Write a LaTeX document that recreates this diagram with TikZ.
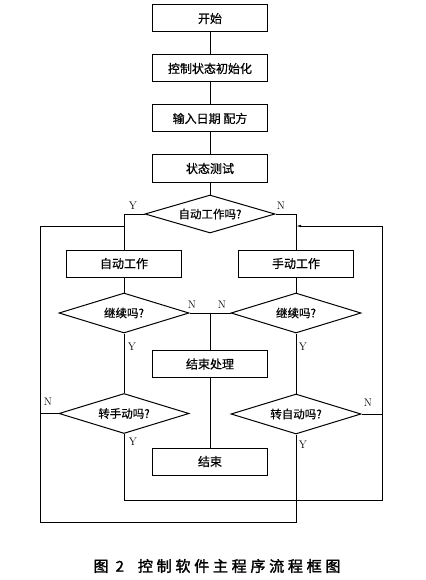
\documentclass[tikz,border=0pt]{standalone}
\usepackage{fontspec}
\usepackage{tikz}
\usetikzlibrary{arrows.meta, positioning, shapes.geometric}
\newfontfamily\cjk{Noto Sans CJK SC}[FakeBold=0.6]
\newfontfamily\cjkcap{Noto Sans CJK SC}[FakeBold=2, LetterSpace=25]

\begin{document}
\begin{tikzpicture}[x=1pt, y=-1pt,
        box/.style={rectangle, draw=black, line width=1pt, minimum width=115pt, minimum height=27pt, align=center, font=\cjk\fontsize{12}{14}\selectfont},
        decision/.style={diamond, draw=black, line width=1pt, aspect=3.25, inner sep=0pt, minimum width=130pt, minimum height=40pt, align=center, font=\cjk\fontsize{11.5}{13}\selectfont},
        yn/.style={inner sep=0pt, font=\fontsize{11}{13}\selectfont},
        line/.style={draw=black, line width=0.8pt}
    ]
        \useasboundingbox (0,0) rectangle (425,580);
        \node[box] (start) at (210,18.5) {开始};
        \node[box, below=22pt of start] (init) {控制状态初始化};
        \node[box, below=22pt of init] (input) {输入日期\ 配方};
        \node[box, below=22pt of input] (test) {状态测试};
        \node[decision, minimum height=38pt] (isauto) at (210,214) {自动工作吗?};
        \node[box] (auto) at (124,263.5) {自动工作};
        \node[box] (manual) at (296,263.5) {手动工作};
        \node[decision] (goonL) at (124,313) {继续吗?};
        \node[decision] (goonR) at (296,313) {继续吗?};
        \node[box] (endproc) at (210,364) {结束处理};
        \node[decision] (tomanual) at (124,413.5) {转手动吗?};
        \node[decision] (toauto) at (296,414) {转自动吗?};
        \node[box] (finish) at (210,461.5) {结束};
        \coordinate (lt) at (40,226);
        \coordinate (lb) at (40,522);
        \coordinate (rt) at (382,226);
        \coordinate (rb) at (382,500);
        \coordinate (join) at (endproc.north |- goonL.east);
        % main chain
        \draw[line] (start) -- (init);
        \draw[line] (init) -- (input);
        \draw[line] (input) -- (test);
        \draw[line] (test) -- (isauto);
        \draw[line] (isauto.west) -| (auto.north);
        \draw[line] (isauto.east) -| (manual.north);
        \draw[line] (auto) -- (goonL);
        \draw[line] (manual) -- (goonR);
        \draw[line] (goonL.east) -- (goonR.west);
        \draw[line] (join) -- (endproc);
        \draw[line] (endproc) -- (finish);
        \draw[line] (goonL) -- (tomanual);
        \draw[line] (goonR) -- (toauto);
        % loops back
        \draw[line] (toauto.south) |- (lb) -- (lt) -- (lt -| auto.north);
        \draw[line] (tomanual.west) -- (tomanual.west -| lt);
        \draw[line] (tomanual.south) |- (rb) -- (rt);
        \draw[line, -{Latex[length=5pt, width=2.5pt]}] (rt) -- (rt -| manual.north);
        \draw[line] (toauto.east) -- (toauto.east -| rt);
        % Y / N
        \node[yn] (y1) at (133,206) {Y};
        \node[yn] (n1) at (281,206) {N};
        \node[yn] (n2) at (192,305) {N};
        \node[yn] (n3) at (222,305) {N};
        \node[yn] (y2) at (132,347) {Y};
        \node[yn] (y3) at (303,347) {Y};
        \node[yn] (n4) at (48,402) {N};
        \node[yn] (y4) at (133,442) {Y};
        \node[yn] (n5) at (368,403) {N};
        \node[yn] (y5) at (303,445) {Y};
        \node[font=\cjkcap\fontsize{15}{17}\selectfont] (caption) at (217,566) {图 2\hspace{14pt}控制软件主程序流程框图};
    \end{tikzpicture}
\end{document}
